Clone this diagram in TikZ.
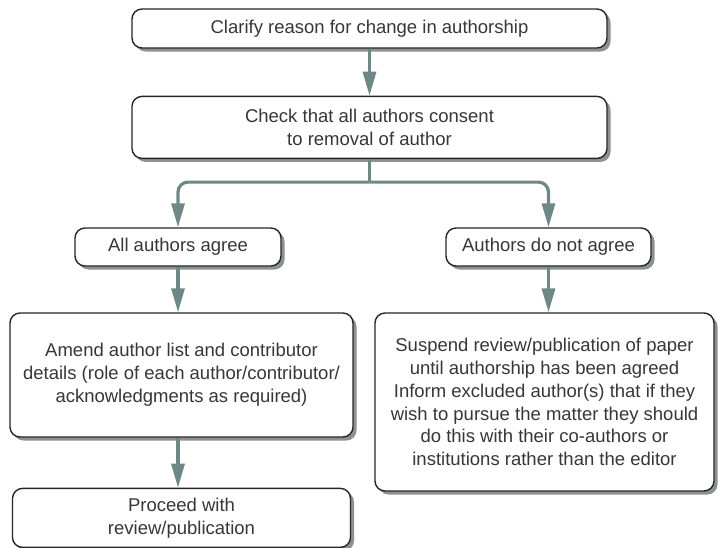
\documentclass[tikz,border=0pt]{standalone}
\usepackage{fontspec}
\setmainfont{Liberation Sans}
\usepackage{xcolor}
\usepackage{tikz}
\usetikzlibrary{arrows.meta, positioning, shadows}

\definecolor{flowgreen}{RGB}{111,136,133}
\definecolor{shadowgray}{RGB}{140,146,146}
\definecolor{textgray}{RGB}{55,55,55}

\begin{document}
\begin{tikzpicture}[
    x=1pt, y=-1pt,
    stepbox/.style={rectangle, rounded corners=10pt, draw=black!85, line width=1.4pt,
                    fill=white, align=center, text=textgray, inner sep=4pt,
                    font=\fontsize{18.5}{22.8}\selectfont,
                    drop shadow={shadow xshift=3.5pt, shadow yshift=-3.5pt,
                                 fill=shadowgray, opacity=1}},
    flow/.style={-{Triangle[length=24pt, width=13pt]}, line width=3.2pt, draw=flowgreen},
    branch/.style={flow, rounded corners=10pt}
]
\useasboundingbox (0,0) rectangle (718,547);

% Top of the chart
\node[stepbox, minimum width=475pt, minimum height=39pt] (clarify) at (369.5,28.5)
    {Clarify reason for change in authorship};
\node[stepbox, minimum width=475pt, minimum height=62pt, below=47pt of clarify] (check)
    {Check that all authors consent\\to removal of author};

% Two outcomes
\node[stepbox, minimum width=206pt, minimum height=38pt] (agree) at (178,247)
    {All authors agree};
\node[stepbox, minimum width=205pt, minimum height=38pt] (disagree) at (548.5,247)
    {Authors do not agree};

% Left branch
\node[stepbox, minimum width=343pt, minimum height=124pt] (amend) at (181.5,375)
    {Amend author list and contributor\\details (role of each author/contributor/\\acknowledgments as required)};
\node[stepbox, minimum width=338pt, minimum height=59pt, below=50pt of amend] (proceed)
    {Proceed with\\review/publication};

% Right branch
\node[stepbox, minimum width=339pt, minimum height=178pt] (suspend) at (544.5,402)
    {Suspend review/publication of paper\\until authorship has been agreed\\Inform excluded author(s) that if they\\wish to pursue the matter they should\\do this with their co-authors or\\institutions rather than the editor};

% Arrows
\draw[flow] (clarify) -- (check);
\draw[flowgreen, line width=3.2pt] (check.south) -- ++(0,23) coordinate (fork);
\draw[branch] (fork) -| (agree.north);
\draw[branch] (fork) -| (disagree.north);
\draw[flow] (agree.south) -- (agree.south |- amend.north);
\draw[flow] (agree.south |- amend.south) -- (agree.south |- proceed.north);
\draw[flow] (disagree.south) -- (disagree.south |- suspend.north);
\end{tikzpicture}
\end{document}
